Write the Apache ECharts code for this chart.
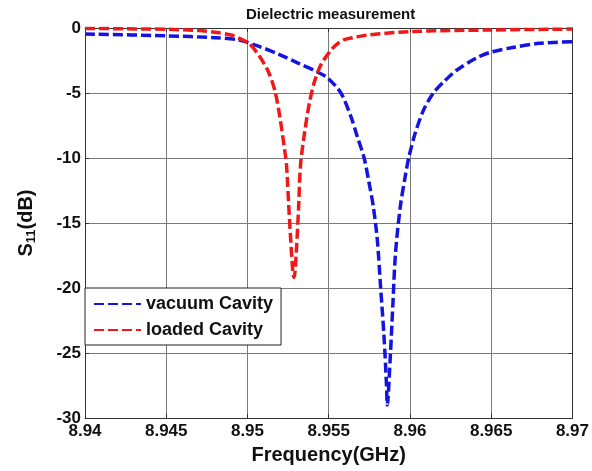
<!DOCTYPE html>
<html>
<head>
<meta charset="utf-8">
<script src="https://cdn.jsdelivr.net/npm/echarts@6/dist/echarts.min.js"></script>
<style>
html,body{margin:0;padding:0;background:#fff;}
#chart{width:592px;height:471px;}
</style>
</head>
<body>
<div id="chart"></div>
<script>
const chartTitle = 'Dielectric measurement';
const xTicks = [8.94, 8.945, 8.95, 8.955, 8.96, 8.965, 8.97];
const yTicks = [0, -5, -10, -15, -20, -25, -30];

const vacuumFreq = [8.940, 8.945, 8.948, 8.94945, 8.95067, 8.95189, 8.95311, 8.95433, 8.95494, 8.95575, 8.95636, 8.95677, 8.95718, 8.95748, 8.95774, 8.95799, 8.95819, 8.9584, 8.95856, 8.9586, 8.9588, 8.95895, 8.95911, 8.95941, 8.95971, 8.95992, 8.96032, 8.96084, 8.96144, 8.96215, 8.96287, 8.96409, 8.965, 8.96632, 8.96794, 8.970];
const vacuumS11 = [-0.46, -0.6, -0.75, -0.92, -1.4, -2.0, -2.7, -3.4, -3.85, -5.0, -6.8, -8.4, -10.0, -11.9, -13.7, -16.3, -19.9, -23.7, -27.6, -29.0, -25.0, -21.2, -17.3, -13.7, -11.4, -10.0, -8.1, -6.3, -5.0, -4.05, -3.25, -2.3, -1.85, -1.5, -1.18, -1.05];

const loadedFreq = [8.940, 8.9425, 8.945, 8.947, 8.948, 8.949, 8.9495, 8.9501, 8.9507, 8.9513, 8.9517, 8.952, 8.9523, 8.9524, 8.95254, 8.95266, 8.9528, 8.95287, 8.95301, 8.95315, 8.95326, 8.95352, 8.95382, 8.95413, 8.95453, 8.95514, 8.95555, 8.95596, 8.95646, 8.95738, 8.960, 8.965, 8.970];
const loadedS11 = [-0.03, -0.06, -0.1, -0.2, -0.33, -0.54, -0.8, -1.2, -2.1, -3.4, -4.9, -6.9, -9.5, -10.5, -13.7, -16.3, -18.9, -19.2, -17.1, -13.7, -10.6, -8.0, -5.7, -4.1, -2.8, -1.7, -1.2, -0.9, -0.75, -0.54, -0.28, -0.15, -0.08];

const seriesNames = ['vacuum Cavity', 'loaded Cavity'];

const FONT = '"Liberation Sans", Arial, sans-serif';
const pair = (xs, ys) => xs.map((x, i) => [x, ys[i]]);

const chart = echarts.init(document.getElementById('chart'));
const axisCommon = {
  axisLine: {show: true, onZero: false, lineStyle: {color: '#333', width: 1}},
  axisTick: {show: true, inside: true, length: 4, lineStyle: {color: '#333'}},
};
chart.setOption({
  animation: false,
  backgroundColor: '#fff',
  title: {
    text: chartTitle, left: 241, top: 2,
    textStyle: {fontFamily: FONT, fontSize: 15, fontWeight: 'bold', color: '#111'}
  },
  grid: {left: 85, right: 15, top: 28, bottom: 53, containLabel: false},
  legend: {
    orient: 'vertical', left: 85, top: 288,
    padding: [7, 8, 6, 8], itemGap: 8, itemWidth: 47, itemHeight: 14,
    backgroundColor: '#fff', borderColor: '#222', borderWidth: 1, borderRadius: 0,
    itemStyle: {opacity: 0},
    textStyle: {fontFamily: FONT, fontSize: 18, fontWeight: 'bold', color: '#111'},
    data: seriesNames
  },
  xAxis: [
    Object.assign({
      type: 'value', min: xTicks[0], max: xTicks[xTicks.length - 1], interval: 0.005,
      name: 'Frequency(GHz)', nameLocation: 'middle', nameGap: 27,
      nameTextStyle: {fontFamily: FONT, fontSize: 20, fontWeight: 'bold', color: '#111'},
      axisLabel: {fontFamily: FONT, fontSize: 17, fontWeight: 'bold', color: '#111', margin: 5,
        formatter: v => String(+v.toFixed(3))},
      splitLine: {show: true, lineStyle: {color: '#7a7a7a', width: 1}}
    }, axisCommon),
    Object.assign({
      type: 'value', position: 'top', min: xTicks[0], max: xTicks[xTicks.length - 1], interval: 0.005,
      axisLabel: {show: false}, splitLine: {show: false}
    }, axisCommon)
  ],
  yAxis: [
    Object.assign({
      type: 'value', min: yTicks[yTicks.length - 1], max: yTicks[0], interval: 5,
      name: '{a|S}{b|11}{a|(dB)}', nameLocation: 'middle', nameGap: 47,
      nameTextStyle: {fontFamily: FONT, fontWeight: 'bold', color: '#111',
        rich: {
          a: {fontFamily: FONT, fontSize: 20, fontWeight: 'bold', color: '#111'},
          b: {fontFamily: FONT, fontSize: 13, fontWeight: 'bold', color: '#111', padding: [10, 0, 0, 0]}
        }},
      axisLabel: {fontFamily: FONT, fontSize: 17, fontWeight: 'bold', color: '#111', margin: 4},
      splitLine: {show: true, lineStyle: {color: '#7a7a7a', width: 1}}
    }, axisCommon),
    Object.assign({
      type: 'value', position: 'right', min: yTicks[yTicks.length - 1], max: yTicks[0], interval: 5,
      axisLabel: {show: false}, splitLine: {show: false}
    }, axisCommon)
  ],
  series: [
    {
      name: seriesNames[0], type: 'line', xAxisIndex: 0, yAxisIndex: 0,
      data: pair(vacuumFreq, vacuumS11), smooth: 0.3, symbol: 'none',
      lineStyle: {color: '#1414e0', width: 3.5, type: [10, 4]},
      itemStyle: {color: '#1414e0'}
    },
    {
      name: seriesNames[1], type: 'line', xAxisIndex: 0, yAxisIndex: 0,
      data: pair(loadedFreq, loadedS11), smooth: 0.3, symbol: 'none',
      lineStyle: {color: '#f01818', width: 3.5, type: [10, 4]},
      itemStyle: {color: '#f01818'}
    }
  ]
});
</script>
</body>
</html>
